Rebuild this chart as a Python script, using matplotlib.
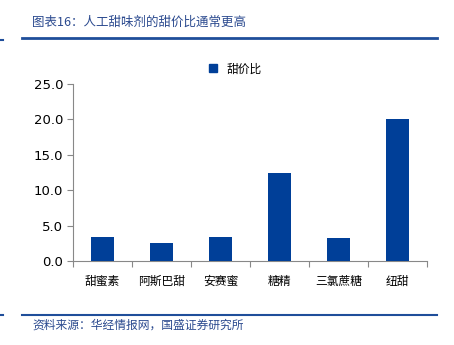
import matplotlib
matplotlib.use("Agg")
import matplotlib.pyplot as plt
from matplotlib.lines import Line2D
import numpy as np

categories = ["甜蜜素", "阿斯巴甜", "安赛蜜", "糖精", "三氯蔗糖", "纽甜"]
sweet_price_ratio = [3.4, 2.5, 3.4, 12.5, 3.3, 20.0]
series_name = "甜价比"
y_ticks = [0, 5, 10, 15, 20, 25]

plt.rcParams["font.family"] = ["Noto Sans CJK SC", "DejaVu Sans"]

BAR = "#003F98"
RULE = "#1F4E9A"
TITLE = "#2B4A8F"

fig = plt.figure(figsize=(4.54, 3.45), dpi=100)
ax = fig.add_axes([0.1608, 0.2435, 0.7797, 0.513])

x = np.arange(len(categories))
ax.bar(x, sweet_price_ratio, width=0.4, color=BAR, zorder=3)
ax.set_xlim(-0.5, len(categories) - 0.5)
ax.set_ylim(0, 25)
ax.set_yticks(y_ticks)
ax.set_yticklabels([f"{v:.1f}" for v in y_ticks], family="DejaVu Sans", fontsize=9.5)
ax.set_xticks(np.arange(-0.5, len(categories)), minor=False)
ax.set_xticklabels([])
ax.set_xticks(x, minor=True)
ax.set_xticklabels(categories, minor=True, fontsize=8.5)
ax.tick_params(axis="x", which="minor", length=0, pad=10)
ax.tick_params(axis="x", which="major", length=4, color="#888888", direction="out")
ax.tick_params(axis="y", length=4, color="#888888", direction="out", pad=3)
for s in ("top", "right"):
    ax.spines[s].set_visible(False)
for s in ("left", "bottom"):
    ax.spines[s].set_color("#888888")
    ax.spines[s].set_linewidth(0.8)

handle = Line2D([], [], marker="s", linestyle="none", color=BAR, markersize=6)
fig.legend([handle], [series_name], loc="center", bbox_to_anchor=(0.51, 0.80),
           frameon=False, fontsize=8.5, handletextpad=0.2, borderaxespad=0)

# header and footer rules
fig.add_artist(Line2D([22 / 454, 437 / 454], [1 - 38 / 345] * 2, color=RULE, lw=2))
fig.add_artist(Line2D([0, 3 / 454], [1 - 40 / 345] * 2, color=RULE, lw=1.5))
fig.add_artist(Line2D([22 / 454, 437 / 454], [1 - 315 / 345] * 2, color=RULE, lw=1.5))
fig.add_artist(Line2D([0, 3 / 454], [1 - 315 / 345] * 2, color=RULE, lw=1.5))

fig.text(32 / 454, 1 - 22 / 345, "图表16：人工甜味剂的甜价比通常更高", color=TITLE,
         fontsize=9, va="center", ha="left", style="italic")
fig.text(32 / 454, 1 - 325 / 345, "资料来源：华经情报网，国盛证券研究所", color=TITLE,
         fontsize=8.5, va="center", ha="left", style="italic")

fig.savefig("out.png", dpi=100)
